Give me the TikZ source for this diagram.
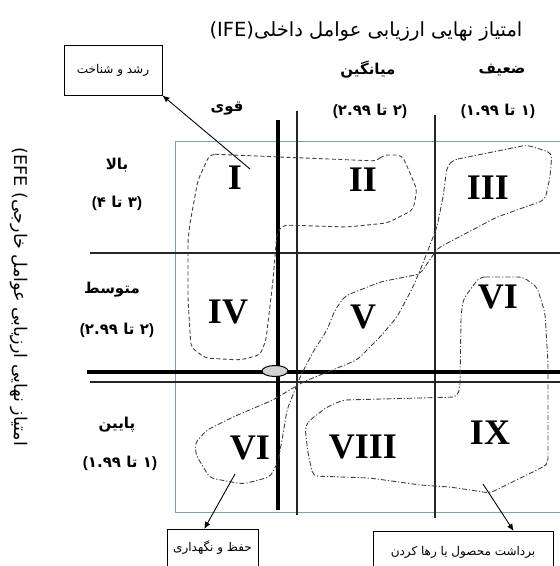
\documentclass[tikz,border=0pt]{standalone}
\usepackage{fontspec}
\usetikzlibrary{arrows.meta,calc}
\TeXXeTstate=1
\newfontfamily\fa[Script=Arabic]{DejaVu Sans}
\newfontfamily\lat{Liberation Sans}
\newfontfamily\rom{Liberation Serif}
\newcommand\fz[1]{\fontsize{#1}{#1}\selectfont}
% physical left-to-right: "(" hi " تا " lo ")"
\newcommand\rng[2]{\hbox{\lat\bfseries(}\hbox{#1}\hbox{\ }\hbox{تا}\hbox{\ }\hbox{#2}\hbox{\lat\bfseries)}}
\begin{document}
\begin{tikzpicture}[x=1pt,y=-1pt,
  roman/.style={font=\rom\bfseries\fz{36}, inner sep=0pt},
  hdr/.style={font=\fa\bfseries\fz{15}, inner sep=0pt},
  lbl/.style={font=\fa\fz{12}},
  boxed/.style={draw, line width=0.9pt},
  arr/.style={-{Latex[length=7pt,width=6pt]}, line width=0.9pt},
  thinl/.style={line width=1.1pt, black!85},
  thickl/.style={line width=4pt},
  frame/.style={line width=0.9pt, draw={rgb,255:red,130;green,155;blue,190}},
  loopdash/.style={dash pattern=on 4pt off 2.5pt, line width=0.9pt, black!75, rounded corners=5pt},
  loopdot/.style={dash pattern=on 5pt off 2pt on 1.2pt off 2pt, line width=0.9pt, black!75, rounded corners=5pt}]
\useasboundingbox (0,0) rectangle (560,566);
\clip (0,0) rectangle (560,566);

% grid
\draw[frame] (175,141) rectangle (570,512);
\draw[thinl] (297,111) -- (297,515);
\draw[thinl] (435,115) -- (435,518);
\draw[thinl] (90,253) -- (560,253);
\draw[thinl] (90,382) -- (560,382);
\draw[thickl] (278,120) -- (278,510);
\draw[thickl] (87,372) -- (560,372);
\filldraw[fill=gray!35, draw=black, line width=1pt] (275,371) ellipse [x radius=13, y radius=5.5];

% loops
\draw[loopdash] (210,154) -- (280,157) -- (377,161) -- (383,155) -- (402,155) -- (410,173) -- (417,190) -- (413,210) -- (387,223) -- (347,227) -- (283,225) -- (277,233) -- (273,280) -- (266,340) -- (260,355) -- (240,360) -- (205,358) -- (191,347) -- (188,300) -- (188,240) -- (190,223) -- (198,180) -- cycle;
\draw[loopdot] (453,160) -- (527,145) -- (552,153) -- (550,177) -- (545,200) -- (497,217) -- (438,248) -- (420,274) -- (380,282) -- (345,296) -- (335,310) -- (327,330) -- (313,352) -- (300,377) -- (287,410) -- (282,440) -- (278,462) -- (270,477) -- (243,484) -- (210,478) -- (196,455) -- (195,443) -- (207,430) -- (233,417) -- (273,400) -- (303,382) -- (357,360) -- (380,337) -- (397,317) -- (413,287) -- (423,263) -- (437,227) -- (443,197) -- (447,167) -- cycle;
\draw[loopdot] (480,277) -- (523,277) -- (537,287) -- (545,313) -- (548,363) -- (548,463) -- (543,467) -- (500,488) -- (490,493) -- (450,487) -- (420,485) -- (370,478) -- (313,476) -- (308,453) -- (305,427) -- (310,420) -- (327,407) -- (343,400) -- (457,397) -- (460,387) -- (461,317) -- (463,300) -- (472,287) -- cycle;

% roman numerals
\node[roman] (r1) at (235,178) {I};
\node[roman] (r2) at (363,180) {II};
\node[roman] (r3) at (488,188) {III};
\node[roman] (r4) at (228,312) {IV};
\node[roman] (r5) at (363,317) {V};
\node[roman] (r6) at (498,297) {VI};
\node[roman] (r7) at (250,448) {VI};
\node[roman] (r8) at (363,447) {VIII};
\node[roman] (r9) at (490,433) {IX};

% titles
\node[font=\fa\fz{19.5}, inner sep=0pt] (title) at (366,31) {(IFE)\beginR امتیاز نهایی ارزیابی عوامل داخلی\endR};
\node[font=\fa\fz{17.5}, inner sep=0pt, rotate=-90] (efe) at (19,297) {(EFE )\beginR امتیاز نهایی ارزیابی عوامل خارجی\endR};

% column headers
\node[hdr] (cw) at (502,70) {\beginR ضعیف\endR};
\node[hdr] (cwr) at (498,111) {\rng{۱.۹۹}{۱}};
\node[hdr] (cm) at (368,70) {\beginR میانگین\endR};
\node[hdr] (cmr) at (370,111) {\rng{۲.۹۹}{۲}};
\node[hdr] (cs) at (227,109) {\beginR قوی\endR};

% row headers
\node[hdr] (rh) at (117,165) {\beginR بالا\endR};
\node[hdr] (rhr) at (117,203) {\rng{۴}{۳}};
\node[hdr] (rm) at (112,290) {\beginR متوسط\endR};
\node[hdr] (rmr) at (117,330) {\rng{۲.۹۹}{۲}};
\node[hdr] (rl) at (117,425) {\beginR پایین\endR};
\node[hdr] (rlr) at (120,463) {\rng{۱.۹۹}{۱}};

% strategy boxes
\node[boxed, lbl, minimum width=98pt, minimum height=50pt] (grow) at (113,70) {\beginR رشد و شناخت\endR};
\node[boxed, lbl, anchor=north, minimum width=91pt, inner ysep=0pt, text height=22pt, text depth=30pt] (keep) at (212.5,529) {\beginR حفظ و نگهداری\endR};
\node[boxed, lbl, anchor=north, minimum width=180pt, inner ysep=0pt, text height=24pt, text depth=30pt] (harv) at (463,531) {\beginR برداشت محصول یا رها کردن\endR};

% arrows
\coordinate (g1) at (250,169);
\coordinate (k1) at (235,474);
\coordinate (h1) at (483,484);
\draw[arr] (g1) -- (grow.south east);
\draw[arr] (k1) -- ($(keep.north west)!0.41!(keep.north east)$);
\draw[arr] (h1) -- ($(harv.north west)!0.78!(harv.north east)$);
\end{tikzpicture}
\end{document}
